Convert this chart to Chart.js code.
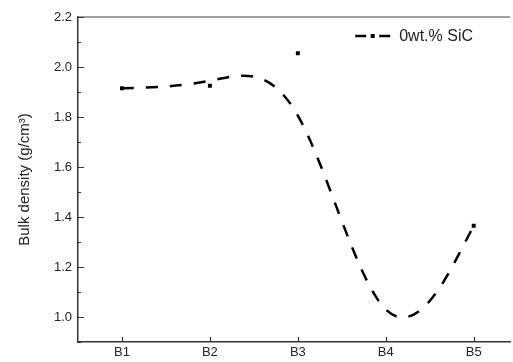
<!DOCTYPE html>
<html>
<head>
<meta charset="utf-8">
<script src="https://cdn.jsdelivr.net/npm/chart.js@4/dist/chart.umd.min.js"></script>
<style>
  html, body { margin: 0; padding: 0; background: #fff; overflow: hidden; }
  canvas { display: block; }
</style>
</head>
<body>
<canvas id="canvas" width="513" height="362"></canvas>
<script>
// sample names on the x axis
const categories = ['B1', 'B2', 'B3', 'B4', 'B5'];
// bulk density, g/cm3 (B4 lies below the visible range, only the curve shows it)
const density = [1.915, 1.925, 2.055, 0.69, 1.365];
const seriesLabel = '0wt.% SiC';
// y axis: range, minor step, labelled step
const yMin = 0.9, yMax = 2.2, yStep = 0.1;

Chart.defaults.font.family = "'Liberation Sans', Arial, sans-serif";
Chart.defaults.color = '#222';

// smooth B-spline through the data points used as control points (ends repeated)
const splinePlugin = {
  id: 'spline',
  beforeDatasetsDraw(chart) {
    const meta = chart.getDatasetMeta(0);
    const p = meta.data.map(el => ({ x: el.x, y: el.y }));
    const c = [p[0], p[0], ...p, p[p.length - 1], p[p.length - 1]];
    const ctx = chart.ctx;
    const a = chart.chartArea;
    ctx.save();
    ctx.beginPath();
    ctx.rect(a.left, a.top, a.right - a.left, a.bottom - a.top);
    ctx.clip();
    ctx.beginPath();
    ctx.strokeStyle = '#000';
    ctx.lineWidth = 2.5;
    ctx.setLineDash([12, 12]);
    for (let i = 0; i + 3 < c.length; i++) {
      const [c0, c1, c2, c3] = [c[i], c[i + 1], c[i + 2], c[i + 3]];
      const s = { x: (c0.x + 4 * c1.x + c2.x) / 6, y: (c0.y + 4 * c1.y + c2.y) / 6 };
      const b1 = { x: (2 * c1.x + c2.x) / 3, y: (2 * c1.y + c2.y) / 3 };
      const b2 = { x: (c1.x + 2 * c2.x) / 3, y: (c1.y + 2 * c2.y) / 3 };
      const e = { x: (c1.x + 4 * c2.x + c3.x) / 6, y: (c1.y + 4 * c2.y + c3.y) / 6 };
      if (i === 0) ctx.moveTo(s.x, s.y);
      ctx.bezierCurveTo(b1.x, b1.y, b2.x, b2.y, e.x, e.y);
    }
    ctx.stroke();
    ctx.restore();
  }
};

// inner ticks, top frame line and the legend inside the plot
const framePlugin = {
  id: 'frame',
  afterDraw(chart) {
    const ctx = chart.ctx;
    const a = chart.chartArea;
    const ys = chart.scales.y, xs = chart.scales.x;
    ctx.save();
    ctx.strokeStyle = '#808080';
    ctx.lineWidth = 1.5;
    ctx.beginPath();
    ctx.moveTo(a.left, a.top);
    ctx.lineTo(a.right, a.top);
    ctx.stroke();

    ctx.strokeStyle = '#333';
    ctx.lineWidth = 1.2;
    ctx.beginPath();
    ys.ticks.forEach(t => {
      const y = Math.round(ys.getPixelForValue(t.value)) + 0.5;
      const major = Math.round(t.value * 10) % 2 === 0;
      ctx.moveTo(a.left, y);
      ctx.lineTo(a.left + (major ? 6 : 3), y);
    });
    xs.ticks.forEach(t => {
      const x = Math.round(xs.getPixelForValue(t.value)) + 0.5;
      ctx.moveTo(x, a.bottom);
      ctx.lineTo(x, a.bottom - 5);
    });
    ctx.stroke();

    // legend
    const lx = a.right - 155, ly = a.top + 19;
    ctx.strokeStyle = '#000';
    ctx.lineWidth = 2.5;
    ctx.setLineDash([11, 13]);
    ctx.beginPath();
    ctx.moveTo(lx, ly);
    ctx.lineTo(lx + 35, ly);
    ctx.stroke();
    ctx.setLineDash([]);
    ctx.fillStyle = '#000';
    ctx.fillRect(lx + 15.5, ly - 2, 4, 4);
    ctx.fillStyle = '#222';
    ctx.font = "16px 'Liberation Sans', Arial, sans-serif";
    ctx.textBaseline = 'middle';
    ctx.textAlign = 'left';
    ctx.fillText(seriesLabel, lx + 44, ly + 1);
    ctx.restore();
  }
};

const data = {
  datasets: [{
    label: seriesLabel,
    data: density.map((v, i) => ({ x: i + 1, y: v })),
    showLine: false,
    pointStyle: 'rect',
    pointRadius: 2.8,
    pointHoverRadius: 2.8,
    backgroundColor: '#000',
    borderColor: '#000',
    pointBorderWidth: 0
  }]
};

const config = {
  type: 'line',
  data: data,
  options: {
    responsive: false,
    animation: false,
    layout: { padding: { top: 17, left: 0, right: 0, bottom: 0 } },
    plugins: { legend: { display: false }, tooltip: { enabled: false } },
    scales: {
      x: {
        type: 'linear',
        min: 0.5,
        max: 5.415,
        afterBuildTicks: s => { s.ticks = categories.map((c, i) => ({ value: i + 1 })); },
        afterFit: s => { s.height = 20; },
        ticks: {
          callback: v => categories[v - 1],
          font: { size: 13 },
          color: '#222',
          padding: 3,
          maxRotation: 0,
          autoSkip: false
        },
        grid: { drawOnChartArea: false, drawTicks: false },
        border: { color: '#333', width: 1.5 }
      },
      y: {
        min: yMin,
        max: yMax,
        afterFit: s => { s.width = 78; },
        ticks: {
          stepSize: yStep,
          callback: v => (Math.round(v * 10) % 2 === 0 ? v.toFixed(1) : ''),
          font: { size: 13 },
          color: '#222',
          padding: 6,
          autoSkip: false
        },
        title: {
          display: true,
          text: 'Bulk density (g/cm³)',
          font: { size: 15 },
          color: '#222',
          padding: { top: 16, bottom: 0 }
        },
        grid: { drawOnChartArea: false, drawTicks: false },
        border: { color: '#333', width: 1.5 }
      }
    }
  },
  plugins: [splinePlugin, framePlugin]
};

const canvas = document.getElementById('canvas');
const chart = new Chart(canvas, config);
</script>
</body>
</html>
